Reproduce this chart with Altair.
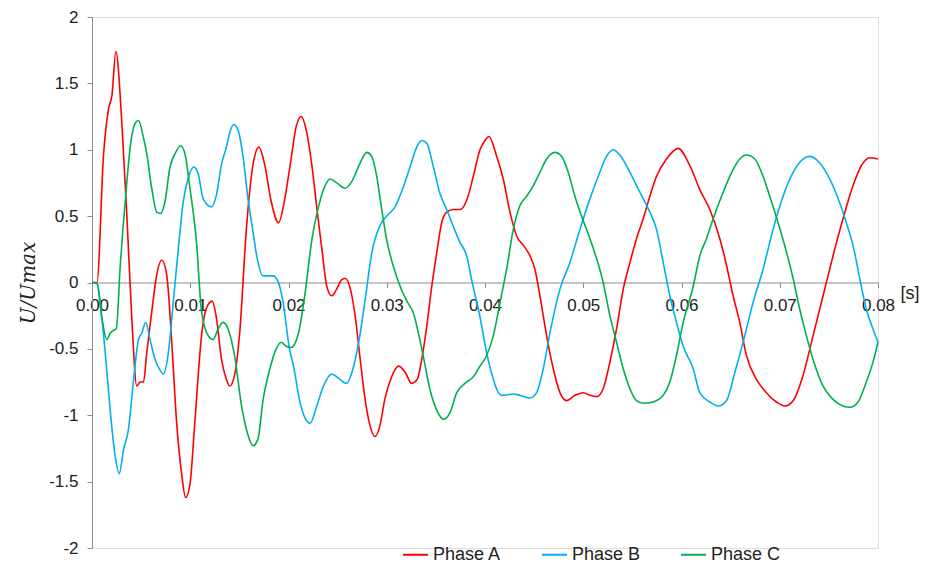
import altair as alt
import pandas as pd

# Phase A (red)
t_a = [0.0, 0.0005, 0.00118, 0.00169, 0.00203, 0.00243, 0.00304, 0.00355, 0.00405, 0.00456, 0.0049, 0.00524,
       0.00557, 0.00608, 0.00659, 0.0071, 0.0076, 0.0081, 0.00861, 0.00912, 0.00953, 0.00997, 0.01047, 0.01115,
       0.01166, 0.01223, 0.01267, 0.01318, 0.01368, 0.01402, 0.01453, 0.01503, 0.01571, 0.01639, 0.01699, 0.01757,
       0.01824, 0.01899, 0.0196, 0.0202, 0.0208, 0.0213, 0.0218, 0.0224, 0.0229, 0.0234, 0.0239, 0.0244, 0.0249,
       0.0254, 0.0258, 0.0263, 0.0268, 0.0273, 0.0278, 0.0283, 0.0288, 0.0293, 0.0298, 0.0305, 0.0312, 0.0319,
       0.03254, 0.0331, 0.03356, 0.03407, 0.03458, 0.03508, 0.03559, 0.0361, 0.03678, 0.03746, 0.03814, 0.03881,
       0.03949, 0.04, 0.0404, 0.04119, 0.04186, 0.04254, 0.04322, 0.0439, 0.04458, 0.04508, 0.04559, 0.04627,
       0.04695, 0.04763, 0.0483, 0.04915, 0.05, 0.05068, 0.05136, 0.05203, 0.05271, 0.05339, 0.05407, 0.05475,
       0.05542, 0.0561, 0.05678, 0.05746, 0.05847, 0.05966, 0.06085, 0.06186, 0.06288, 0.0639, 0.06458, 0.06525,
       0.06593, 0.06661, 0.06763, 0.06864, 0.06966, 0.07051, 0.07136, 0.07237, 0.07339, 0.07441, 0.07542, 0.07644,
       0.07746, 0.07831, 0.07915, 0.08]
v_a = [0.0, 0.0, 0.97, 1.31, 1.41, 1.74, 1.20, 0.50, -0.27, -0.78, -0.75, -0.75,
       -0.53, -0.22, 0.06, 0.17, 0.06, -0.43, -1.05, -1.44, -1.62, -1.52, -1.05, -0.40,
       -0.19, -0.14, -0.27, -0.58, -0.73, -0.78, -0.69, -0.38, 0.40, 0.89, 1.02, 0.89,
       0.61, 0.45, 0.62, 0.90, 1.18, 1.25, 1.15, 0.87, 0.55, 0.25, -0.03, -0.10, -0.05,
       0.02, 0.03, -0.05, -0.26, -0.58, -0.88, -1.08, -1.16, -1.08, -0.88, -0.71, -0.63, -0.68,
       -0.76, -0.73, -0.58, -0.33, -0.03, 0.22, 0.45, 0.53, 0.55, 0.55, 0.62, 0.80,
       1.00, 1.07, 1.10, 0.95, 0.78, 0.53, 0.35, 0.28, 0.20, 0.10, -0.10, -0.40,
       -0.65, -0.83, -0.89, -0.85, -0.83, -0.85, -0.86, -0.80, -0.60, -0.35, -0.05, 0.15,
       0.33, 0.48, 0.65, 0.80, 0.93, 1.01, 0.88, 0.70, 0.55, 0.33, 0.13, -0.10,
       -0.30, -0.55, -0.73, -0.83, -0.90, -0.93, -0.89, -0.70, -0.40, -0.10, 0.20, 0.48,
       0.73, 0.88, 0.94, 0.93]

# Phase B (blue)
t_b = [0.0, 0.0005, 0.00101, 0.00135, 0.00186, 0.00236, 0.00277, 0.00321, 0.00372, 0.00422, 0.00473, 0.00507,
       0.00547, 0.00591, 0.00642, 0.00693, 0.00726, 0.00777, 0.00828, 0.00878, 0.00929, 0.0098, 0.01037, 0.01081,
       0.01132, 0.01216, 0.01267, 0.01318, 0.01368, 0.01402, 0.01443, 0.01486, 0.01537, 0.01588, 0.01639, 0.01672,
       0.0174, 0.01791, 0.01841, 0.01892, 0.01943, 0.0201, 0.02051, 0.02119, 0.0222, 0.02288, 0.02356, 0.02441,
       0.02508, 0.02593, 0.02644, 0.02712, 0.0278, 0.02847, 0.02932, 0.03, 0.03085, 0.03169, 0.03237, 0.03305,
       0.03356, 0.03407, 0.03475, 0.03542, 0.0361, 0.03678, 0.03746, 0.03814, 0.03864, 0.03949, 0.04017, 0.04085,
       0.04136, 0.0417, 0.04288, 0.04356, 0.04458, 0.04525, 0.04593, 0.04661, 0.04763, 0.04864, 0.04966, 0.05068,
       0.05153, 0.05237, 0.05305, 0.05373, 0.05475, 0.05576, 0.05678, 0.05746, 0.05814, 0.05881, 0.05949, 0.06017,
       0.06119, 0.06186, 0.06288, 0.06373, 0.06458, 0.06542, 0.06627, 0.06729, 0.0683, 0.06932, 0.07034, 0.07136,
       0.07237, 0.07305, 0.07407, 0.07508, 0.0761, 0.07678, 0.07746, 0.07814, 0.07881, 0.07949, 0.08]
v_b = [0.0, 0.0, -0.27, -0.53, -0.97, -1.31, -1.44, -1.26, -1.10, -0.74, -0.43, -0.38,
       -0.30, -0.43, -0.58, -0.66, -0.69, -0.53, -0.14, 0.25, 0.61, 0.79, 0.87, 0.82,
       0.63, 0.57, 0.66, 0.89, 1.02, 1.13, 1.19, 1.15, 0.95, 0.63, 0.38, 0.22,
       0.05, 0.05, 0.05, 0.01, -0.14, -0.50, -0.63, -0.91, -1.06, -0.93, -0.78, -0.69,
       -0.72, -0.76, -0.68, -0.46, -0.13, 0.22, 0.43, 0.50, 0.57, 0.72, 0.87, 1.02,
       1.07, 1.05, 0.87, 0.67, 0.55, 0.42, 0.30, 0.20, 0.02, -0.26, -0.53, -0.73,
       -0.83, -0.85, -0.84, -0.85, -0.87, -0.83, -0.65, -0.38, -0.05, 0.15, 0.40, 0.63,
       0.80, 0.95, 1.00, 0.96, 0.83, 0.68, 0.53, 0.40, 0.15, -0.10, -0.30, -0.48,
       -0.65, -0.83, -0.90, -0.93, -0.89, -0.68, -0.45, -0.15, 0.10, 0.40, 0.65, 0.83,
       0.93, 0.95, 0.90, 0.78, 0.60, 0.45, 0.28, 0.03, -0.20, -0.35, -0.45]

# Phase C (green)
t_c = [0.0, 0.0005, 0.00101, 0.00152, 0.00186, 0.0022, 0.00247, 0.00287, 0.00338, 0.00389, 0.00439, 0.00473,
       0.00524, 0.00557, 0.00608, 0.00659, 0.00699, 0.00743, 0.00794, 0.00845, 0.00902, 0.00946, 0.00997, 0.01064,
       0.01115, 0.01182, 0.01233, 0.01284, 0.01334, 0.01385, 0.01453, 0.0152, 0.01588, 0.01639, 0.01689, 0.0174,
       0.01807, 0.01875, 0.01926, 0.01976, 0.02027, 0.02102, 0.02169, 0.02237, 0.02305, 0.02373, 0.02424, 0.02492,
       0.02576, 0.02644, 0.02729, 0.02797, 0.02847, 0.02898, 0.02949, 0.03, 0.03068, 0.03153, 0.0322, 0.03271,
       0.03322, 0.03373, 0.03441, 0.03508, 0.03576, 0.03644, 0.03712, 0.03797, 0.03881, 0.03949, 0.04017, 0.04085,
       0.04153, 0.0422, 0.04288, 0.04356, 0.04424, 0.04492, 0.04559, 0.04627, 0.04712, 0.0478, 0.04847, 0.04915,
       0.04983, 0.05068, 0.05136, 0.05203, 0.05271, 0.05339, 0.05407, 0.05475, 0.05542, 0.0561, 0.05712, 0.05814,
       0.05881, 0.05949, 0.06017, 0.06119, 0.06186, 0.06254, 0.06322, 0.06424, 0.06525, 0.06593, 0.06661, 0.06746,
       0.0683, 0.06898, 0.06983, 0.07068, 0.07136, 0.07203, 0.07271, 0.07339, 0.07441, 0.07542, 0.07644, 0.07712,
       0.07797, 0.07881, 0.07949, 0.08]
v_c = [0.0, -0.01, -0.27, -0.43, -0.38, -0.36, -0.35, 0.12, 0.61, 1.02, 1.20, 1.22,
       1.09, 0.97, 0.71, 0.53, 0.52, 0.61, 0.87, 0.97, 1.03, 0.97, 0.71, 0.30,
       -0.22, -0.40, -0.43, -0.35, -0.30, -0.35, -0.56, -0.92, -1.15, -1.23, -1.18, -0.89,
       -0.66, -0.50, -0.45, -0.48, -0.49, -0.38, -0.08, 0.32, 0.57, 0.73, 0.78, 0.75,
       0.71, 0.76, 0.90, 0.98, 0.95, 0.80, 0.55, 0.32, 0.12, -0.06, -0.16, -0.23,
       -0.38, -0.56, -0.81, -0.96, -1.03, -0.98, -0.83, -0.76, -0.71, -0.63, -0.55, -0.40,
       -0.15, 0.10, 0.40, 0.58, 0.65, 0.73, 0.83, 0.93, 0.98, 0.95, 0.83, 0.65,
       0.50, 0.33, 0.18, 0.0, -0.25, -0.45, -0.65, -0.80, -0.89, -0.91, -0.90, -0.85,
       -0.75, -0.55, -0.30, -0.03, 0.20, 0.33, 0.48, 0.68, 0.85, 0.93, 0.96, 0.93,
       0.80, 0.65, 0.45, 0.23, 0.03, -0.20, -0.40, -0.58, -0.78, -0.88, -0.93, -0.94,
       -0.90, -0.75, -0.60, -0.45]

phases = ["Phase A", "Phase B", "Phase C"]
colors = ["#FF0000", "#00B0F0", "#00B050"]
x_ticks = [0.0, 0.01, 0.02, 0.03, 0.04, 0.05, 0.06, 0.07, 0.08]
y_ticks = [-2, -1.5, -1, -0.5, 0, 0.5, 1, 1.5, 2]

rows = []
for name, ts, vs in zip(phases, [t_a, t_b, t_c], [v_a, v_b, v_c]):
    for i, (t, v) in enumerate(zip(ts, vs)):
        rows.append({"t": t, "v": v, "phase": name, "order": i})
df = pd.DataFrame(rows)

FONT = "Liberation Sans"
AX = "#8c8c8c"
TXT = "#222222"
W, H = 786, 531

x_enc = alt.X("t:Q", scale=alt.Scale(domain=[0, 0.08], nice=False, zero=False),
              axis=alt.Axis(values=x_ticks, format=".2f", title=None, grid=False,
                            offset=-H / 2, tickSize=5, labelPadding=10,
                            labelFlush=False, labelOverlap=False,
                            domainColor=AX, tickColor=AX, labelColor=TXT,
                            labelFont=FONT, labelFontSize=17))
y_enc = alt.Y("v:Q", scale=alt.Scale(domain=[-2, 2], nice=False, zero=False),
              axis=alt.Axis(values=y_ticks, labelExpr="'' + datum.value", title="U/Umax",
                            grid=False, tickSize=5, labelPadding=9,
                            labelFlush=False, labelOverlap=False,
                            domainColor=AX, tickColor=AX, labelColor=TXT,
                            labelFont=FONT, labelFontSize=17,
                            titleFont="DejaVu Serif", titleFontStyle="italic",
                            titleFontWeight="normal", titleFontSize=20, titleColor=TXT,
                            titlePadding=10))

lines = alt.Chart(df).mark_line(strokeWidth=1.6, interpolate="monotone").encode(
    x=x_enc,
    y=y_enc,
    order="order:Q",
    color=alt.Color("phase:N", scale=alt.Scale(domain=phases, range=colors),
                    legend=alt.Legend(title=None, orient="none", direction="horizontal",
                                      legendX=310, legendY=524, symbolType="stroke",
                                      symbolSize=625, symbolStrokeWidth=2, labelOffset=4,
                                      columnPadding=36, labelFont=FONT, labelFontSize=18,
                                      labelColor=TXT)),
)

unit_label = alt.Chart(pd.DataFrame({"lab": ["[s]"]})).mark_text(
    font=FONT, fontSize=18, color=TXT, dx=32, dy=11, align="center", baseline="middle"
).encode(x=alt.datum(0.08), y=alt.datum(0), text="lab:N")

chart = alt.layer(lines, unit_label).properties(
    width=W, height=H,
    padding={"left": 84, "top": 9, "right": 49, "bottom": 16},
    autosize=alt.AutoSizeParams(type="none"),
).configure_view(stroke=None).configure(background="white")

chart.save("out.html", embed_options={"renderer": "svg", "actions": False})
